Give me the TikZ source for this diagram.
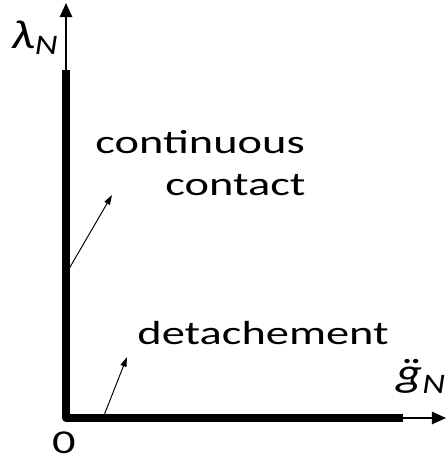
\documentclass[tikz,border=0pt]{standalone}
\usepackage{fontspec}
\setmainfont{Carlito}
\usetikzlibrary{arrows.meta}
\tikzset{
    lbl/.style={font=\fontsize{19}{22}\selectfont, inner sep=0pt, xscale=1.39, transform shape},
    sym/.style={font=\fontsize{23}{26}\selectfont\itshape, inner sep=0pt, xscale=1.25, transform shape},
    axis/.style={line width=1.1pt, -{Triangle[length=8pt,width=7pt]}},
    pointer/.style={line width=0.55pt, -{Triangle[length=5.5pt,width=3.5pt]}}
}
\begin{document}
\begin{tikzpicture}[x=0.02cm,y=0.02cm]
        \useasboundingbox (0,0) rectangle (446,461);
        % axes
        \coordinate (O) at (66,43);
        \coordinate (ytop) at (66,391);
        \coordinate (xend) at (403,43);
        \draw[axis] (ytop) -- (66,458);
        \draw[axis] (xend) -- (446,43);
        \draw[line width=4pt, line join=round] (ytop) -- (O) -- (xend);
        % labels
        \node[sym, anchor=base west] (lam) at (11,413) {λ\textsubscript{N}};
        \node[sym, anchor=base west] (gdd) at (396,74) {\accent"A8 g\textsubscript{N}};
        \node[lbl, anchor=base] (zero) at (64,8) {0};
        \node[lbl, anchor=base west] (cont) at (95,308) {continuous};
        \node[lbl, anchor=base east] (contact) at (306,266) {contact};
        \node[lbl, anchor=base west] (det) at (137,116) {detachement};
        % pointers
        \coordinate (p1) at (66,187);
        \coordinate (p1h) at (112,266);
        \coordinate (p2) at (103,43);
        \coordinate (p2h) at (127,104);
        \draw[pointer] (p1) -- (p1h);
        \draw[pointer] (p2) -- (p2h);
\end{tikzpicture}
\end{document}
